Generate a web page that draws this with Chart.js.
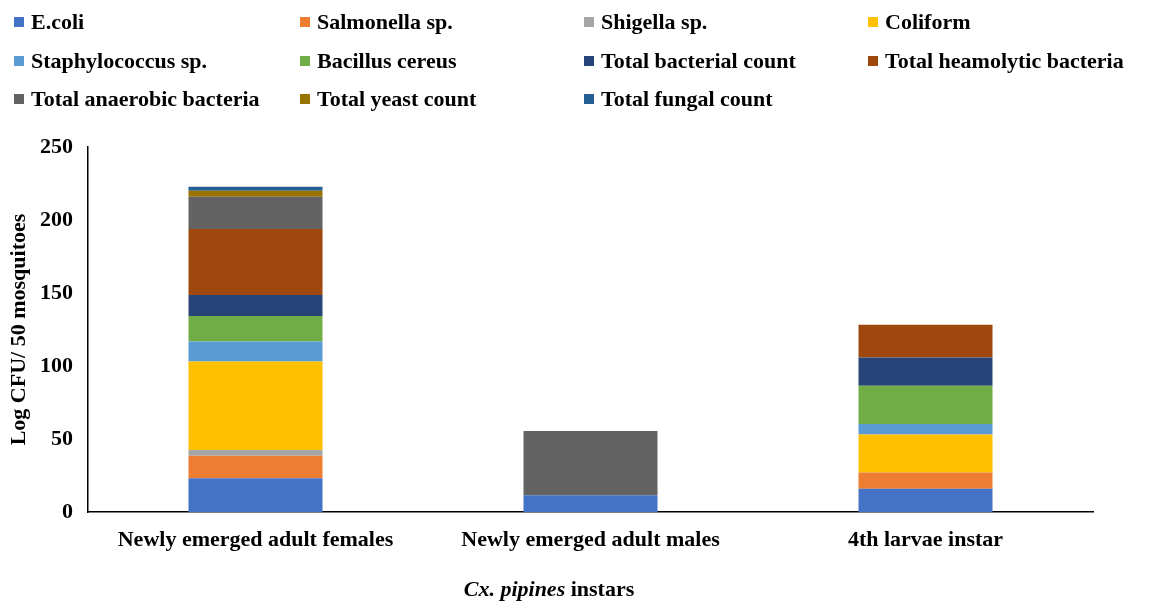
<!DOCTYPE html>
<html>
<head>
<meta charset="utf-8">
<script src="https://cdn.jsdelivr.net/npm/chart.js@4"></script>
<style>
    html, body { margin: 0; padding: 0; background: #fff; }
    #wrap { position: relative; width: 1149px; height: 605px; }
    #chart { position: absolute; left: 0; top: 0; }
    .leg { position: absolute; font: bold 22px "Liberation Serif", "Times New Roman", serif; color: #000; white-space: nowrap; line-height: 26px; }
    .leg span.box { position: absolute; left: 0; top: 8px; width: 10px; height: 10px; }
    .leg span.txt { position: absolute; left: 17px; top: 0; }
</style>
</head>
<body>
<div id="wrap">
    <canvas id="chart" width="1149" height="605"></canvas>
</div>
<script>
// categories on the x axis
const instars = ['Newly emerged adult females', 'Newly emerged adult males', '4th larvae instar'];

// stacked series (Log CFU / 50 mosquitoes)
const ecoli       = [23.1, 11.4, 16.0];
const salmonella  = [15.5, 0, 11.0];
const shigella    = [3.9, 0, 0];
const coliform    = [60.5, 0, 26.0];
const staph       = [13.7, 0, 7.3];
const bacillus    = [17.6, 0, 26.2];
const totalBact   = [14.4, 0, 19.4];
const haemolytic  = [45.2, 0, 22.4];
const anaerobic   = [22.1, 44.0, 0];
const yeast       = [4.1, 0, 0];
const fungal      = [2.7, 0, 0];

const seriesNames = [
    'E.coli', 'Salmonella sp.', 'Shigella sp.', 'Coliform',
    'Staphylococcus sp.', 'Bacillus cereus', 'Total bacterial count', 'Total heamolytic bacteria',
    'Total anaerobic bacteria', 'Total yeast count', 'Total fungal count'
];
const seriesValues = [ecoli, salmonella, shigella, coliform, staph, bacillus, totalBact, haemolytic, anaerobic, yeast, fungal];
const seriesColors = [
    '#4472C4', '#ED7D31', '#A5A5A5', '#FFC000',
    '#5B9BD5', '#70AD47', '#264478', '#9E480E',
    '#636363', '#997300', '#255E91'
];

const yTicks = [0, 50, 100, 150, 200, 250];

const FONT = '"Liberation Serif", "Times New Roman", serif';

// HTML legend, 4 columns like the original
const legCols = [14, 300, 584, 868];
const legRows = [9, 48, 86];
const wrap = document.getElementById('wrap');
seriesNames.forEach((name, i) => {
    const el = document.createElement('div');
    el.className = 'leg';
    el.style.left = legCols[i % 4] + 'px';
    el.style.top = legRows[Math.floor(i / 4)] + 'px';
    el.innerHTML = '<span class="box" style="background:' + seriesColors[i] + '"></span><span class="txt"></span>';
    el.querySelector('.txt').textContent = name;
    wrap.appendChild(el);
});

// x axis title with mixed italic / regular parts
const xTitlePlugin = {
    id: 'xTitle',
    afterDraw(chart) {
        const ctx = chart.ctx;
        const partA = 'Cx. pipines';
        const partB = ' instars';
        ctx.save();
        ctx.fillStyle = '#000';
        ctx.textBaseline = 'middle';
        ctx.font = 'italic bold 22px ' + FONT;
        const wA = ctx.measureText(partA).width;
        ctx.font = 'bold 22px ' + FONT;
        const wB = ctx.measureText(partB).width;
        const x0 = 549 - (wA + wB) / 2;
        ctx.font = 'italic bold 22px ' + FONT;
        ctx.textAlign = 'left';
        ctx.fillText(partA, x0, 590);
        ctx.font = 'bold 22px ' + FONT;
        ctx.fillText(partB, x0 + wA, 590);
        ctx.restore();
    }
};

new Chart(document.getElementById('chart'), {
    type: 'bar',
    data: {
        labels: instars,
        datasets: seriesNames.map((name, i) => ({
            label: name,
            data: seriesValues[i],
            backgroundColor: seriesColors[i],
            borderWidth: 0,
            barPercentage: 0.4,
            categoryPercentage: 1.0,
        }))
    },
    options: {
        responsive: false,
        animation: false,
        layout: { padding: { top: 147, right: 56, bottom: 0, left: 0 } },
        plugins: {
            legend: { display: false },
            tooltip: { enabled: false },
        },
        scales: {
            x: {
                stacked: true,
                grid: { display: false, drawTicks: false },
                border: { display: true, color: '#000', width: 1.5 },
                ticks: {
                    color: '#000',
                    padding: 15,
                    maxRotation: 0,
                    font: { family: FONT, size: 22, weight: 'bold' },
                },
                afterFit: (scale) => { scale.height = 93; },
            },
            y: {
                stacked: true,
                min: 0,
                max: 250,
                afterBuildTicks: (scale) => { scale.ticks = yTicks.map(v => ({ value: v })); },
                grid: { display: false, drawTicks: false },
                border: { display: true, color: '#000', width: 1.5 },
                ticks: {
                    color: '#000',
                    padding: 15,
                    font: { family: FONT, size: 22, weight: 'bold' },
                },
                title: {
                    display: true,
                    text: 'Log CFU/ 50 mosquitoes',
                    color: '#000',
                    padding: { top: 6, bottom: 0 },
                    font: { family: FONT, size: 22, weight: 'bold' },
                },
                afterFit: (scale) => { scale.width = 88; },
            }
        }
    },
    plugins: [xTitlePlugin]
});
</script>
</body>
</html>
